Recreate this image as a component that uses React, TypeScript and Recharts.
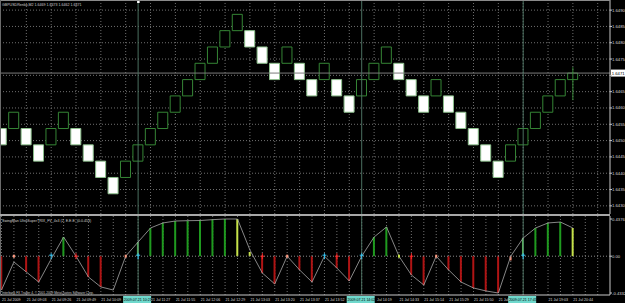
import React from 'react';
import {
  ComposedChart,
  Bar,
  Line,
  Scatter,
  XAxis,
  YAxis,
  CartesianGrid,
  ReferenceLine,
  Cell,
} from 'recharts';

// ---------------- data ----------------
const brickOpen = [
  1.64537, 1.64537, 1.64537, 1.64487, 1.64487, 1.64537, 1.64537, 1.64487, 1.64437, 1.64387,
  1.64387, 1.64437, 1.64487, 1.64537, 1.64587, 1.64637, 1.64687, 1.64737, 1.64787, 1.64837,
  1.64837, 1.64787, 1.64737, 1.64737, 1.64737, 1.64687, 1.64687, 1.64687, 1.64637, 1.64637,
  1.64687, 1.64737, 1.64737, 1.64687, 1.64637, 1.64637, 1.64637, 1.64587, 1.64537, 1.64487,
  1.64437, 1.64437, 1.64487, 1.64537, 1.64587, 1.64637, 1.64687,
];
const brickClose = [
  1.64487, 1.64587, 1.64487, 1.64437, 1.64537, 1.64587, 1.64487, 1.64437, 1.64387, 1.64337,
  1.64437, 1.64487, 1.64537, 1.64587, 1.64637, 1.64687, 1.64737, 1.64787, 1.64837, 1.64887,
  1.64787, 1.64737, 1.64687, 1.64787, 1.64687, 1.64637, 1.64737, 1.64637, 1.64587, 1.64687,
  1.64737, 1.64787, 1.64687, 1.64637, 1.64587, 1.64687, 1.64587, 1.64537, 1.64487, 1.64437,
  1.64387, 1.64487, 1.64537, 1.64587, 1.64637, 1.64687, 1.64707,
];
const lastHigh = 1.64725;
const lastLow = 1.64624;
const bidPrice = 1.64707;
const bidText = '1.6471';
const titleText = 'GBPUSDRenko,M2 1.6469 1.6473 1.6462 1.6471';

const priceTicks = [
  1.649, 1.6485, 1.648, 1.6475, 1.647, 1.6465, 1.646, 1.6455, 1.645, 1.6445, 1.644, 1.6435, 1.643,
];

const histValues = [
  -0.398, null, -0.186, -0.304, null, 0.226, null, -0.245, -0.362, null,
  null, 0.167, 0.332, 0.391, 0.414, 0.418, 0.42, 0.43, 0.4376, 0.4376,
  0.05, -0.198, -0.327, null, -0.162, -0.304, null, -0.139, -0.292, null,
  0.226, 0.344, null, -0.221, -0.339, null, -0.162, -0.304, -0.374, -0.409,
  -0.4332, -0.05, 0.214, 0.332, 0.391, 0.402, 0.332,
];
const histKind = [
  'r', '', 'r', 'r', '', 'g', '', 'r', 'r', '',
  '', 'lg', 'g', 'g', 'g', 'g', 'g', 'g', 'g', 'y',
  'y', 'r', 'r', '', 'r', 'r', '', 'r', 'r', '',
  'g', 'g', '', 'r', 'r', '', 'r', 'r', 'r', 'r',
  'r', 'o', 'lg', 'g', 'g', 'g', 'y',
];
const lineValues = [
  -0.398, -0.068, -0.186, -0.304, -0.033, 0.226, 0, -0.245, -0.362, -0.398,
  0, 0.167, 0.332, 0.391, 0.414, 0.418, 0.42, 0.43, 0.4376, 0.4376,
  0.073, -0.198, -0.327, 0, -0.162, -0.304, 0, -0.139, -0.292, 0,
  0.226, 0.344, 0, -0.221, -0.339, 0, -0.162, -0.304, -0.374, -0.409,
  -0.4332, 0, 0.214, 0.332, 0.391, 0.402, 0.332,
];
const markerIdx = [1, 4, 6, 10, 11, 21, 23, 26, 27, 29, 32, 33, 35, 42];
const markerKind = ['sq', 'up', 'dn', 'sq', 'up', 'dn', 'sq', 'up', 'dn', 'up', 'lsq', 'dn', 'sq', 'up'];

const subTicks = [0.4376, 0, -0.4332];
const subTitle = 'SwingMan UltraSuperTRIX_FV_4x3 (2, E.E.E. (0.0.453)';
const copyright = 'Interbank FX Trader 4, \u00A9 2001-2009 MetaQuotes Software Corp.';

// time labels every second brick (those hidden under the line-date boxes are omitted)
const timeIdx = [0, 2, 4, 6, 8, 12, 14, 16, 18, 20, 22, 24, 26, 30, 32, 34, 36, 38, 40, 44, 46];
const timeText = [
  '21 Jul 2009', '21 Jul 09:03', '21 Jul 09:26', '21 Jul 09:49', '21 Jul 10:09',
  '21 Jul 11:27', '21 Jul 11:55', '21 Jul 12:06', '21 Jul 12:29', '21 Jul 13:03', '21 Jul 13:20',
  '21 Jul 13:37', '21 Jul 13:52', 'Jul 14:19', '21 Jul 14:33', '21 Jul 15:14',
  '21 Jul 15:29', '21 Jul 15:50', '21 Jul', '21 Jul 19:03', '21 Jul 20:44',
];
const separators = [11, 29, 42];
const separatorText = ['2009.07.21 10:21', '2009.07.21 14:02', '2009.07.21 17:45'];

// ---------------- config ----------------
const X_DOMAIN: [number, number] = [-0.12, 48.99];
const PRICE_DOMAIN: [number, number] = [1.64275, 1.64931];
const SUB_DOMAIN: [number, number] = [-0.4567, 0.473];
const FONT = '"Liberation Sans", Arial, sans-serif';
const GRID_COLOR = '#707070';
const SEP_COLOR = '#4b6f60';
const AXIS_COLOR = '#c8c8c8';
const UP_STROKE = '#358535';

const gridIdx = Array.from({ length: 49 }, (_, k) => k);

const brickData = brickOpen.map((o, i) => ({
  i,
  range: [Math.min(o, brickClose[i]), Math.max(o, brickClose[i])],
  up: brickClose[i] > o,
}));
const lastIdx = brickOpen.length - 1;
const subData = histValues.map((h, i) => ({ i, h, v: lineValues[i], k: histKind[i] }));
const markerData = markerIdx.map((i, k) => ({ i, y: 0, kind: markerKind[k] }));

const histColor: Record<string, string> = {
  r: '#b01414',
  g: '#1f9a1f',
  lg: '#5cc45c',
  y: '#c6e24a',
  o: '#ff8a70',
};

// ---------------- renderers ----------------
const PriceTick = (props: any) => {
  const { x, y, payload } = props;
  if (Math.abs(payload.value - 1.647) < 1e-7) return <g />;
  return (
    <text x={x} y={y + 1.5} fontSize={4.2} fill="#d8d8d8" fontFamily={FONT} textAnchor="start">
      {Number(payload.value).toFixed(4)}
    </text>
  );
};

const SubTick = (props: any) => {
  const { x, y, payload } = props;
  const v = Number(payload.value);
  return (
    <text x={x} y={y + 1.5} fontSize={4.2} fill="#d8d8d8" fontFamily={FONT} textAnchor="start">
      {v === 0 ? '0.00' : v.toFixed(4)}
    </text>
  );
};

const TimeTick = (props: any) => {
  const { x, y, payload } = props;
  const k = timeIdx.indexOf(payload.value);
  const txt = k >= 0 ? timeText[k] : '';
  // partially hidden label: show its visible tail after the date box
  const dx = txt.startsWith('Jul') ? 3 : 0.5;
  return (
    <text x={x + dx} y={y + 5.5} fontSize={3.6} fill="#d8d8d8" fontFamily={FONT} textAnchor="start">
      {txt}
    </text>
  );
};

const BidLabel = (props: any) => {
  const vb = props.viewBox || {};
  const x0 = (vb.x || 0) + (vb.width || 0) + 1;
  const y0 = vb.y || 0;
  return (
    <g>
      <rect x={x0} y={y0 - 3.5} width={14} height={7} fill="#ffffff" />
      <text x={x0 + 0.8} y={y0 + 1.6} fontSize={4.2} fill="#000" fontFamily={FONT}>
        {bidText}
      </text>
    </g>
  );
};

const makeSepTopMarker = (show: boolean) => (props: any) => {
  if (!show) return <g />;
  const vb = props.viewBox || {};
  return <rect x={(vb.x || 0) - 1} y={(vb.y || 0) + 0.5} width={2.5} height={2.5} fill="#ffffff" />;
};

const makeSepLabel = (text: string) => (props: any) => {
  const vb = props.viewBox || {};
  const x = vb.x || 0;
  const yb = (vb.y || 0) + (vb.height || 0);
  return (
    <g>
      <rect x={x - 15} y={yb + 1} width={28} height={7} fill="#6fd8cc" />
      <text x={x - 14.3} y={yb + 6.2} fontSize={3.6} fill="#000" fontFamily={FONT}>
        {text}
      </text>
    </g>
  );
};

const MarkerShape = (props: any) => {
  const { cx, cy, payload } = props;
  if (cx == null || cy == null) return <g />;
  const kind = payload.kind;
  if (kind === 'up') {
    return (
      <g stroke="#35c3f0" strokeWidth={1}>
        <line x1={cx} x2={cx} y1={cy - 3} y2={cy + 3} />
        <line x1={cx - 2} x2={cx + 2} y1={cy - 1} y2={cy - 1} />
      </g>
    );
  }
  if (kind === 'dn') {
    return (
      <g stroke="#ff2a2a" strokeWidth={1}>
        <line x1={cx} x2={cx} y1={cy - 3} y2={cy + 3} />
        <line x1={cx - 2} x2={cx + 2} y1={cy} y2={cy} />
      </g>
    );
  }
  const fill = kind === 'lsq' ? '#c6e24a' : '#ff9a80';
  return <rect x={cx - 1} y={cy - 1.5} width={2} height={3} fill={fill} />;
};

// ---------------- app ----------------
export default function App() {
  return (
    <div
      style={{
        position: 'absolute',
        left: 0,
        top: 0,
        width: 625,
        height: 303,
        background: '#000',
        overflow: 'hidden',
      }}
    >
      <div style={{ position: 'absolute', left: 0, top: 0 }}>
        <ComposedChart width={625} height={214} data={brickData} margin={{ top: 0, right: 0, bottom: 0, left: 0 }}>
          <CartesianGrid
            stroke={GRID_COLOR}
            strokeDasharray="1 2"
            verticalValues={gridIdx}
            horizontalValues={priceTicks}
          />
          <XAxis type="number" dataKey="i" domain={X_DOMAIN} allowDataOverflow hide />
          <YAxis
            orientation="right"
            width={15}
            domain={PRICE_DOMAIN}
            allowDataOverflow
            ticks={priceTicks}
            interval={0}
            tick={PriceTick}
            tickSize={2}
            tickMargin={0}
            axisLine={{ stroke: AXIS_COLOR }}
            tickLine={{ stroke: AXIS_COLOR }}
          />
          <ReferenceLine y={bidPrice} stroke="#7a7a7a" label={BidLabel} />
          {separators.map((s, k) => (
            <ReferenceLine key={s} x={s} stroke={SEP_COLOR} label={makeSepTopMarker(k === 0)} />
          ))}
          <ReferenceLine
            segment={[
              { x: lastIdx, y: lastLow },
              { x: lastIdx, y: lastHigh },
            ]}
            stroke={UP_STROKE}
            strokeWidth={1}
          />
          <Bar dataKey="range" barSize={10} isAnimationActive={false}>
            {brickData.map((d) => (
              <Cell
                key={d.i}
                fill={d.up ? '#000000' : '#ffffff'}
                stroke={d.up ? UP_STROKE : '#8cc08c'}
                strokeWidth={1}
              />
            ))}
          </Bar>
        </ComposedChart>
      </div>

      <div style={{ position: 'absolute', left: 0, top: 216 }}>
        <ComposedChart width={625} height={87} data={subData} margin={{ top: 0, right: 0, bottom: 0, left: 0 }}>
          <CartesianGrid stroke={GRID_COLOR} strokeDasharray="1 2" verticalValues={gridIdx} horizontal={false} />
          <XAxis
            type="number"
            dataKey="i"
            domain={X_DOMAIN}
            allowDataOverflow
            ticks={timeIdx}
            interval={0}
            height={8}
            tick={TimeTick}
            tickLine={false}
            tickSize={0}
            tickMargin={0}
            axisLine={{ stroke: AXIS_COLOR }}
          />
          <YAxis
            orientation="right"
            width={15}
            domain={SUB_DOMAIN}
            allowDataOverflow
            ticks={subTicks}
            interval={0}
            tick={SubTick}
            tickSize={2}
            tickMargin={0}
            axisLine={{ stroke: AXIS_COLOR }}
            tickLine={{ stroke: AXIS_COLOR }}
          />
          <ReferenceLine y={0} stroke="#8a8a8a" strokeDasharray="1 2" />
          {separators.map((s, k) => (
            <ReferenceLine key={s} x={s} stroke={SEP_COLOR} label={makeSepLabel(separatorText[k])} />
          ))}
          <Bar dataKey="h" barSize={2} isAnimationActive={false}>
            {subData.map((d) => (
              <Cell key={d.i} fill={histColor[d.k] || 'transparent'} />
            ))}
          </Bar>
          <Line dataKey="v" stroke="#a8a8a8" strokeWidth={0.8} dot={false} isAnimationActive={false} />
          <Scatter data={markerData} dataKey="y" shape={MarkerShape} isAnimationActive={false} />
        </ComposedChart>
      </div>

      <svg
        width={625}
        height={303}
        style={{ position: 'absolute', left: 0, top: 0, pointerEvents: 'none' }}
      >
        <rect x={0} y={0} width={610} height={1} fill="#8a8a8a" />
        <rect x={0} y={0} width={1} height={295} fill="#6a6a6a" />
        <rect x={0} y={214} width={610} height={2} fill="#a8a8a8" />
        <text x={2} y={5.5} fontSize={3.6} fill="#d0d0d0" fontFamily={FONT}>
          {titleText}
        </text>
        <text x={2} y={221.5} fontSize={3.6} fill="#d0d0d0" fontFamily={FONT}>
          {subTitle}
        </text>
        <text x={2} y={293.5} fontSize={3.2} fill="#d0d0d0" fontFamily={FONT}>
          {copyright}
        </text>
      </svg>
    </div>
  );
}
